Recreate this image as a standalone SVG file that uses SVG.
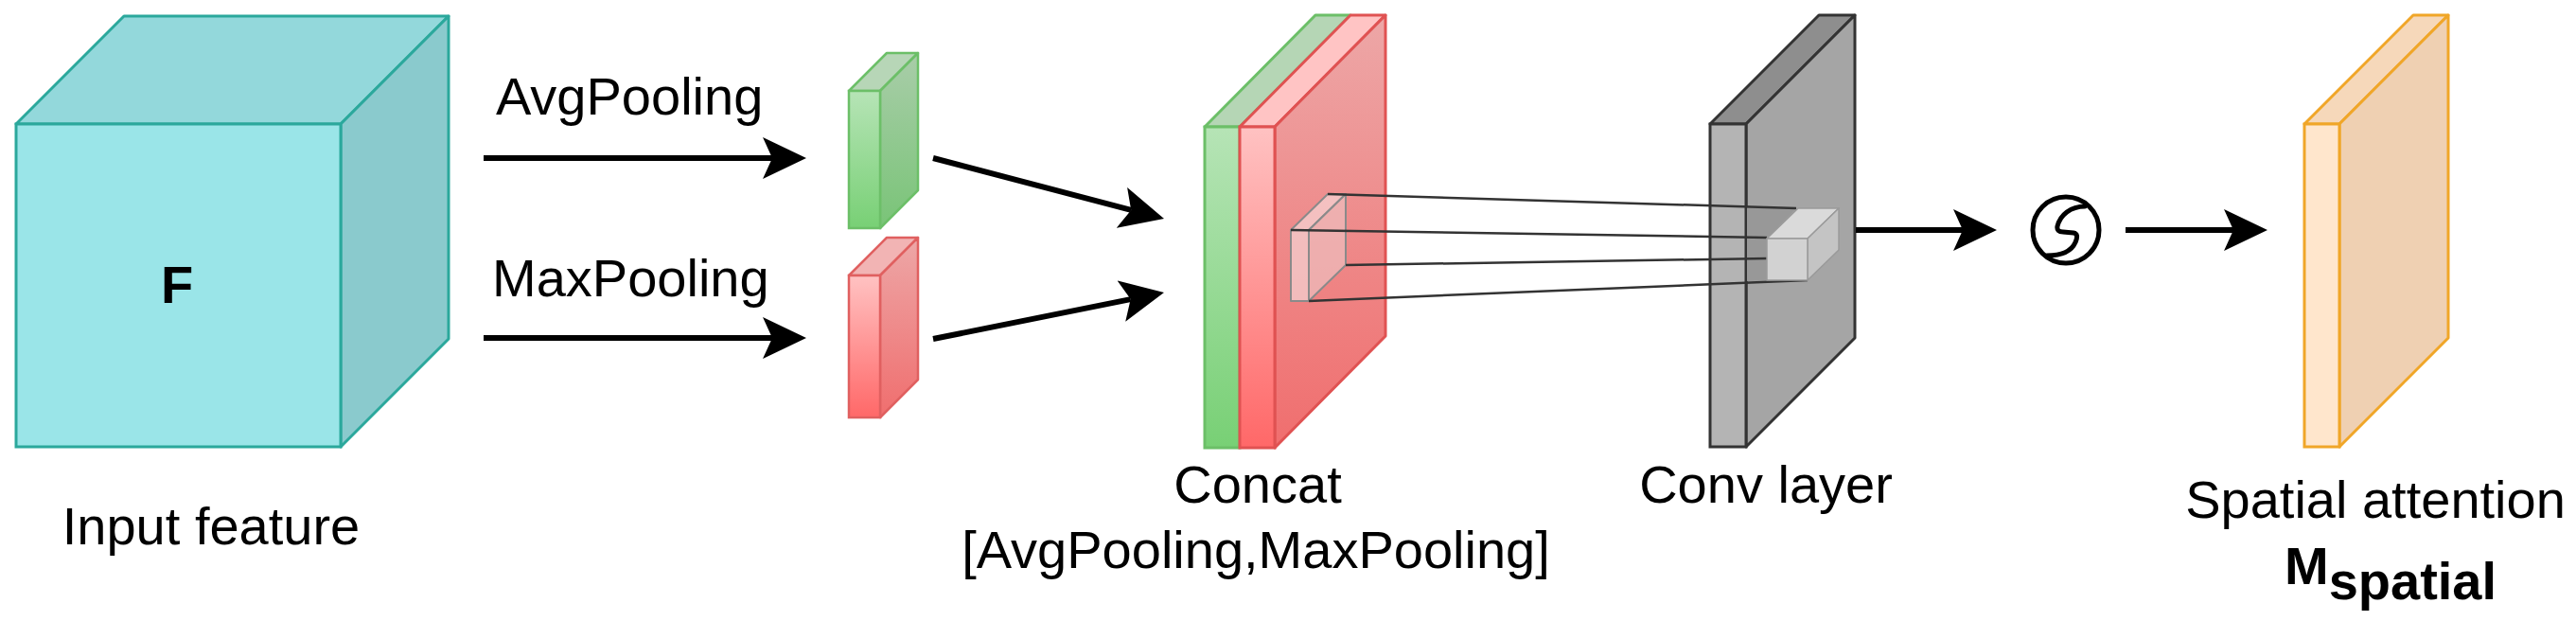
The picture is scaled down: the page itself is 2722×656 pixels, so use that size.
<svg xmlns="http://www.w3.org/2000/svg" width="2722" height="656" viewBox="0 0 2722 656">
<style>
.lbl{font-family:"Liberation Sans",Arial,sans-serif;font-size:56px;fill:#000}
.arr{stroke:#000;stroke-width:6;fill:none}
.rf{stroke:#333;stroke-width:2.5;fill:none}
</style>
<defs>
<marker id="ah" viewBox="0 0 46 44" refX="10" refY="22" markerWidth="46" markerHeight="44" markerUnits="userSpaceOnUse" orient="auto">
<path d="M0,0 L46,22 L0,44 L10,22 Z" fill="#000"/>
</marker>
<linearGradient id="gF" x1="0" y1="0" x2="0" y2="1"><stop offset="0" stop-color="#B6E4B6"/><stop offset="1" stop-color="#78D075"/></linearGradient>
<linearGradient id="gS" x1="0" y1="0" x2="0" y2="1"><stop offset="0" stop-color="#A9CDA9"/><stop offset="1" stop-color="#79C477"/></linearGradient>
<linearGradient id="rF" x1="0" y1="0" x2="0" y2="1"><stop offset="0" stop-color="#FFC2C2"/><stop offset="1" stop-color="#FF6868"/></linearGradient>
<linearGradient id="rS" x1="0" y1="0" x2="0" y2="1"><stop offset="0" stop-color="#EDA7A7"/><stop offset="1" stop-color="#F06E6E"/></linearGradient>
</defs>

<g id="input-feature">
<polygon points="17,131 131,17 474,17 360,131" fill="#93D8DB" stroke="#2BA89C" stroke-width="3" stroke-linejoin="round"/>
<polygon points="360,131 474,17 474,358 360,472" fill="#8ACACD" stroke="#2BA89C" stroke-width="3" stroke-linejoin="round"/>
<rect x="17" y="131" width="343" height="341" fill="#9AE5E8" stroke="#2BA89C" stroke-width="3"/>
<text x="187" y="320" class="lbl" font-weight="bold" font-size="54" text-anchor="middle">F</text>
<text x="223" y="575" class="lbl" text-anchor="middle">Input feature</text>
</g>

<g id="avgpool-map">
<polygon points="897,96 937,56 970,56 930,96" fill="#B7D6B7" stroke="#6CBF68" stroke-width="2.5" stroke-linejoin="round"/>
<polygon points="930,96 970,56 970,201 930,241" fill="url(#gS)" stroke="#6CBF68" stroke-width="2.5" stroke-linejoin="round"/>
<rect x="897" y="96" width="33" height="145" fill="url(#gF)" stroke="#6CBF68" stroke-width="2.5"/>
</g>

<g id="maxpool-map">
<polygon points="897,291 937,251 970,251 930,291" fill="#F2B4B4" stroke="#E06060" stroke-width="2.5" stroke-linejoin="round"/>
<polygon points="930,291 970,251 970,401 930,441" fill="url(#rS)" stroke="#E06060" stroke-width="2.5" stroke-linejoin="round"/>
<rect x="897" y="291" width="33" height="150" fill="url(#rF)" stroke="#E06060" stroke-width="2.5"/>
</g>

<g id="concat">
<polygon points="1273,134 1390,16 1427,16 1310,134" fill="#B5D6B5" stroke="#6CBF68" stroke-width="3" stroke-linejoin="round"/>
<rect x="1273" y="134" width="37" height="339" fill="url(#gF)" stroke="#6CBF68" stroke-width="3"/>
<polygon points="1310,134 1427,16 1464,16 1347,134" fill="#FFC4C4" stroke="#E05252" stroke-width="3" stroke-linejoin="round"/>
<polygon points="1347,134 1464,16 1464,355 1347,473" fill="url(#rS)" stroke="#E05252" stroke-width="3" stroke-linejoin="round"/>
<rect x="1310" y="134" width="37" height="339" fill="url(#rF)" stroke="#E05252" stroke-width="3"/>
<g id="concat-kernel" stroke="#8A8A8A" stroke-width="2" stroke-linejoin="round">
<polygon points="1364,243 1403,205 1422,205 1383,243" fill="#F6D2D2" fill-opacity="0.75"/>
<polygon points="1383,243 1422,205 1422,280 1383,318" fill="#EDBBBB" fill-opacity="0.75"/>
<rect x="1364" y="243" width="19" height="75" fill="#F3CACA" fill-opacity="0.8"/>
</g>
<text x="1329" y="531" class="lbl" text-anchor="middle">Concat</text>
<text x="1327" y="600" class="lbl" text-anchor="middle">[AvgPooling,MaxPooling]</text>
</g>

<g id="conv-layer">
<polygon points="1807,131 1922,16 1960,16 1845,131" fill="#8E8E8E" stroke="#333" stroke-width="3" stroke-linejoin="round"/>
<polygon points="1845,131 1960,16 1960,357 1845,472" fill="#A5A5A5" stroke="#333" stroke-width="3" stroke-linejoin="round"/>
<rect x="1807" y="131" width="38" height="341" fill="#B4B4B4" stroke="#333" stroke-width="3"/>
<polygon points="1846,219 1898,220 1867,252 1867,296 1846,297" fill="#989898"/>
<text x="1866" y="531" class="lbl" text-anchor="middle">Conv layer</text>
</g>

<g id="connectors">
<line x1="511" y1="167" x2="816" y2="167" class="arr" marker-end="url(#ah)"/>
<text x="524" y="121" class="lbl">AvgPooling</text>
<line x1="511" y1="357" x2="816" y2="357" class="arr" marker-end="url(#ah)"/>
<text x="520" y="313" class="lbl">MaxPooling</text>
<line x1="986" y1="167" x2="1195.2" y2="221.9" class="arr" marker-end="url(#ah)"/>
<line x1="986" y1="358" x2="1194.7" y2="316.1" class="arr" marker-end="url(#ah)"/>
<line x1="1403" y1="205" x2="1898" y2="220" class="rf"/>
<line x1="1364" y1="243" x2="1867" y2="251" class="rf"/>
<line x1="1422" y1="280" x2="1867" y2="273" class="rf"/>
<line x1="1383" y1="318" x2="1910" y2="296" class="rf"/>
<line x1="1961" y1="243" x2="2074" y2="243" class="arr" marker-end="url(#ah)"/>
<line x1="2246" y1="243" x2="2360" y2="243" class="arr" marker-end="url(#ah)"/>
</g>

<g id="conv-kernel" stroke="#9A9A9A" stroke-width="1.5" stroke-linejoin="round">
<polygon points="1867,252 1900,220 1943,220 1910,252" fill="#DADADA"/>
<polygon points="1910,252 1943,220 1943,264 1910,296" fill="#C4C4C4"/>
<rect x="1867" y="252" width="43" height="44" fill="#D2D2D2"/>
</g>

<g id="sigmoid">
<circle cx="2183" cy="243" r="35" fill="#fff" stroke="#000" stroke-width="5"/>
<path d="M2203,218 C2188,218 2177,227 2174,239 Q2173,245 2180,245 L2191,246 Q2197,247 2193,256 C2189,265 2179,270 2163,270" fill="none" stroke="#000" stroke-width="5" stroke-linecap="round" stroke-linejoin="round"/>
</g>

<g id="spatial-attention">
<polygon points="2435,131 2550,16 2587,16 2472,131" fill="#F6D8BA" stroke="#F0A628" stroke-width="3" stroke-linejoin="round"/>
<polygon points="2472,131 2587,16 2587,357 2472,472" fill="#EFD0B2" stroke="#F0A628" stroke-width="3" stroke-linejoin="round"/>
<rect x="2435" y="131" width="37" height="341" fill="#FFE6CC" stroke="#F0A628" stroke-width="3"/>
<text x="2510" y="547" class="lbl" text-anchor="middle">Spatial attention</text>
<text x="2414" y="617" class="lbl" font-weight="bold" font-size="48">M<tspan dy="16">spatial</tspan></text>
</g>
</svg>
